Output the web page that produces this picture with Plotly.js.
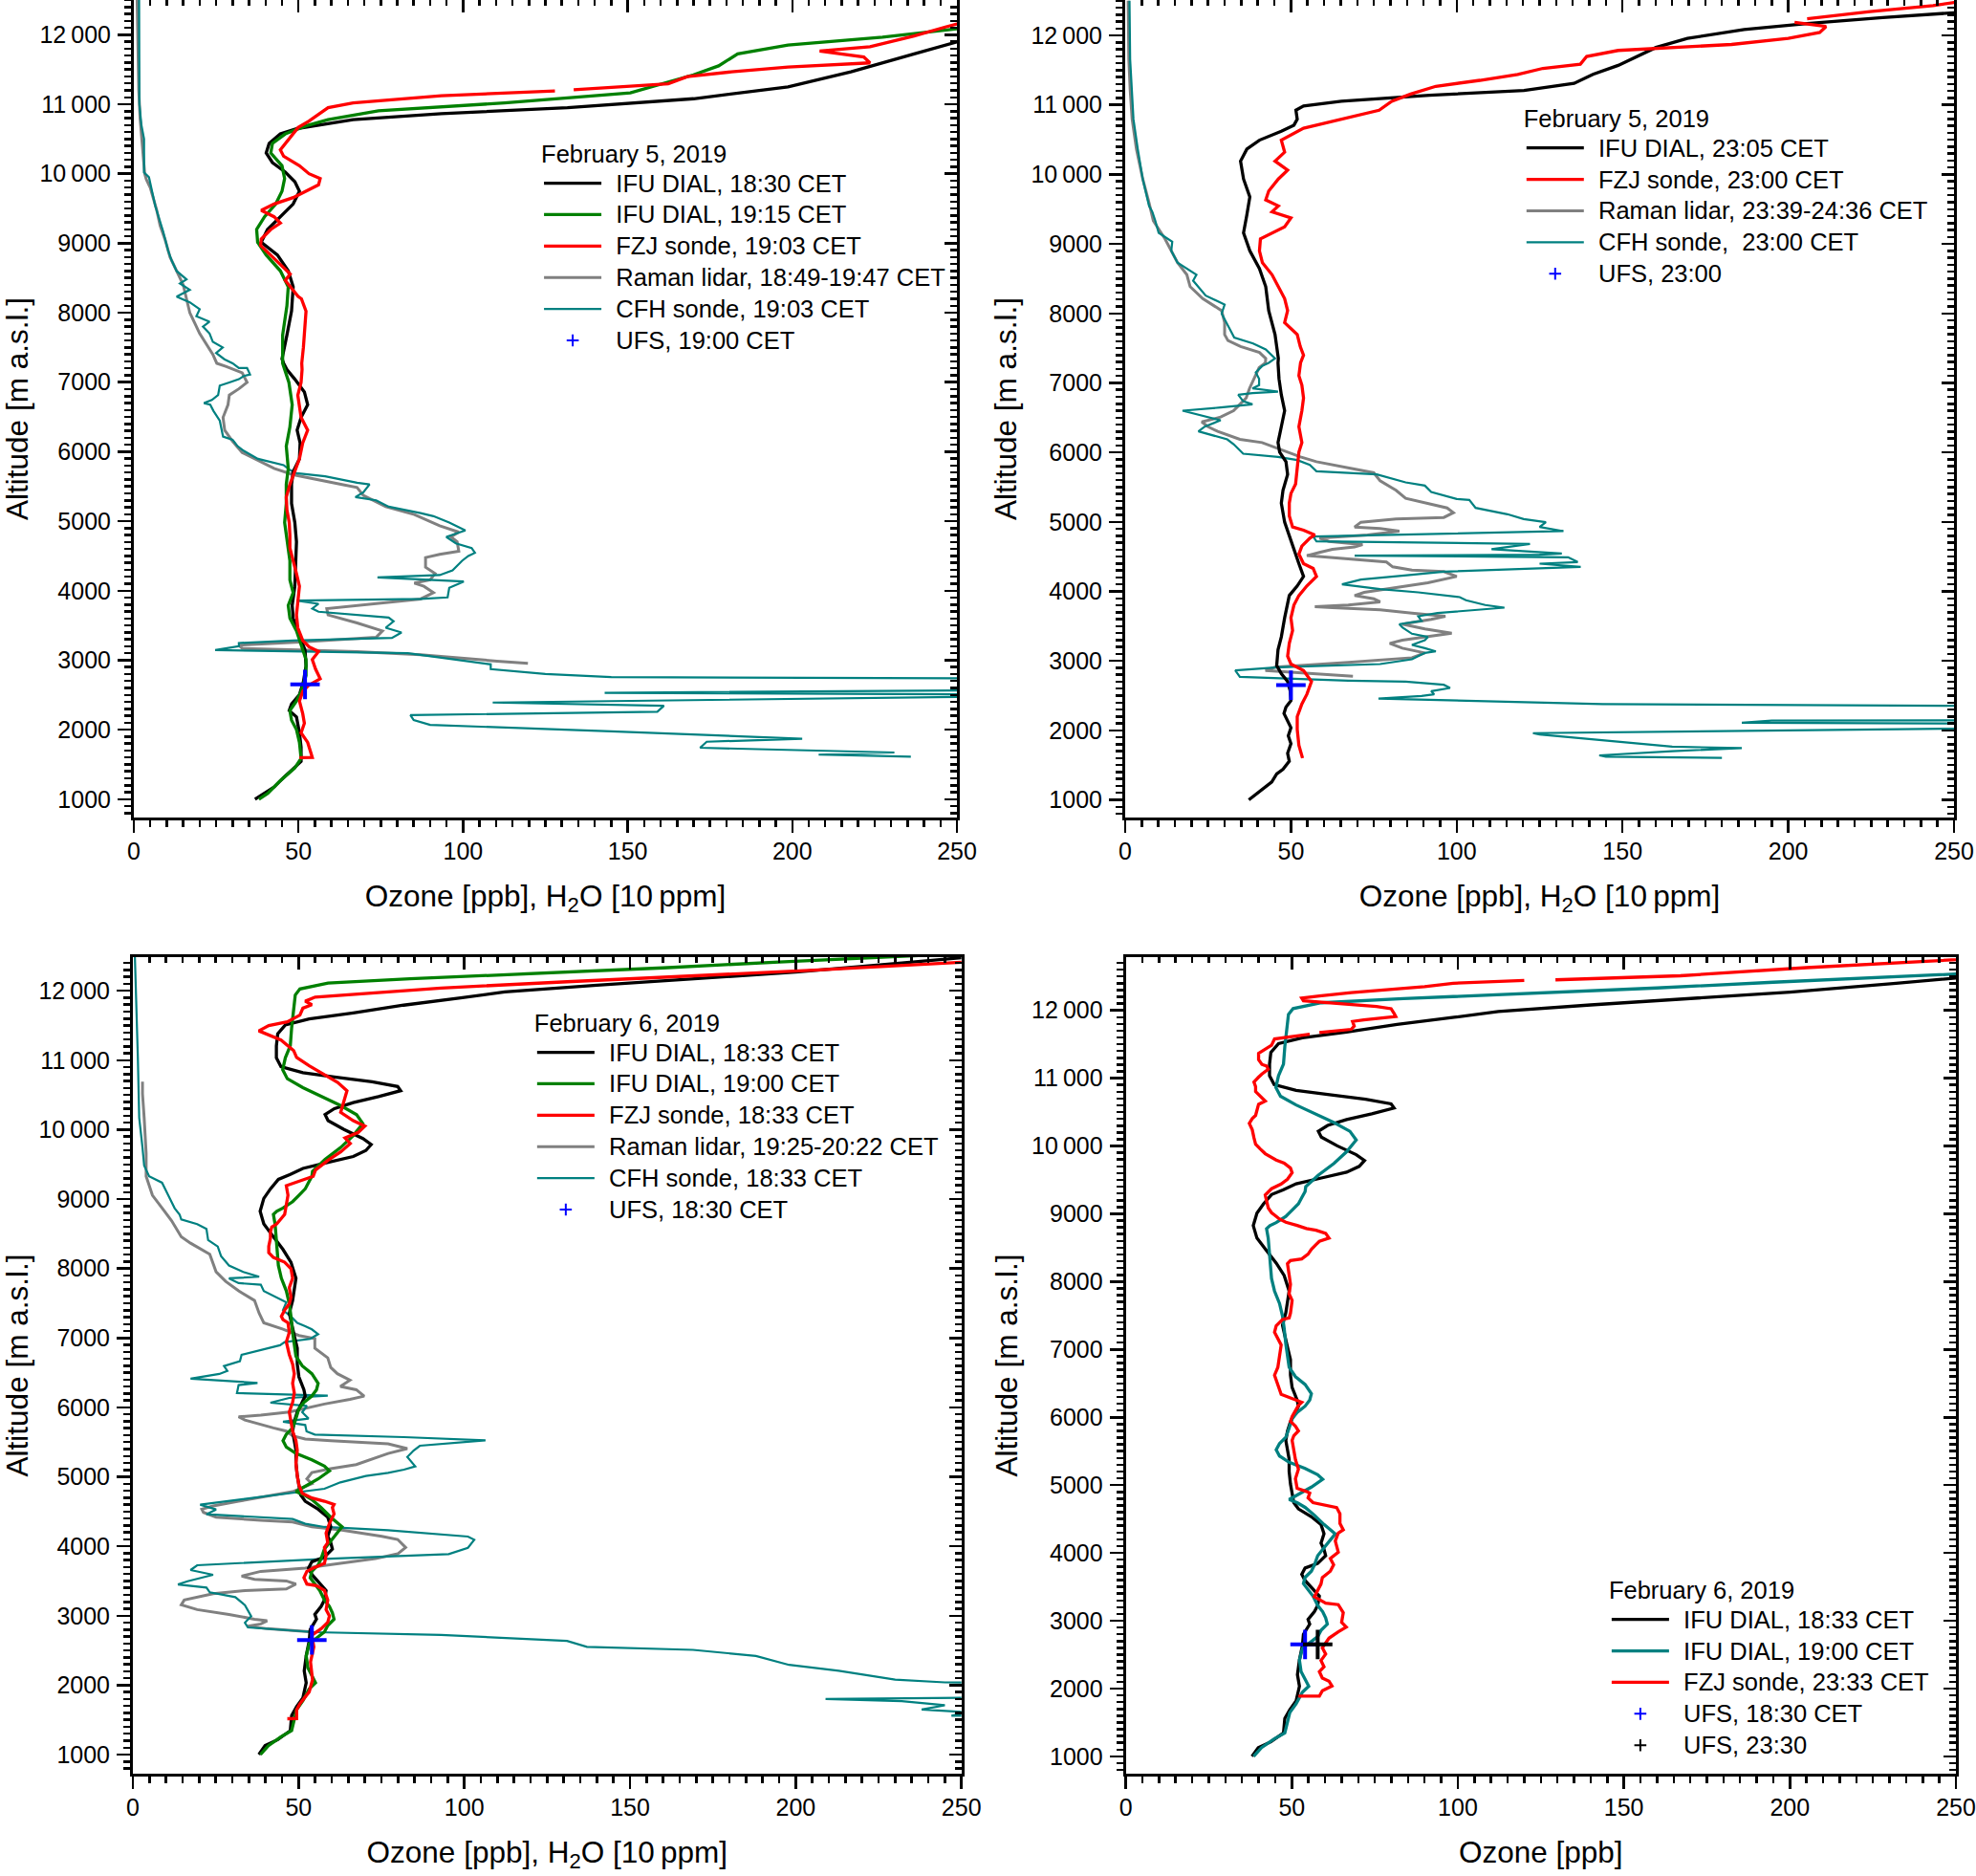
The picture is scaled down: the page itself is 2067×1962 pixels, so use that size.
<!DOCTYPE html>
<html>
<head>
<meta charset="utf-8">
<script src="https://cdn.plot.ly/plotly-3.0.1.min.js"></script>
<style>html,body{margin:0;padding:0;background:#fff;}#chart{width:2067px;height:1962px;}</style>
</head>
<body>
<div id="chart"></div>
<script>
// ---------------- DATA (ozone [ppb] or H2O [10 ppm], altitude [m a.s.l.]) ----------------
const xTickVals = [0, 50, 100, 150, 200, 250];
const yTickVals = [1000, 2000, 3000, 4000, 5000, 6000, 7000, 8000, 9000, 10000, 11000, 12000];
const yTickText = ['1000','2000','3000','4000','5000','6000','7000','8000','9000','10\u2009000','11\u2009000','12\u2009000'];

// Panel 1: February 5, 2019 (evening)
const p1_dial1830 = [[36.8,1000],[38.7,1060],[42.6,1175],[45.5,1312],[48.9,1450],[50.8,1542],[50.8,1750],[50.3,1954],[49.4,2183],[47.2,2275],[47.9,2367],[50.3,2504],[51.5,2688],[52.3,2917],[52.0,3146],[50.8,3284],[49.4,3467],[48.4,3605],[48.1,3788],[48.9,4063],[49.2,4338],[49.4,4705],[48.9,4980],[47.9,5255],[47.9,5530],[48.4,5714],[50.3,5897],[50.5,6126],[49.6,6310],[50.8,6493],[52.8,6676],[51.8,6860],[48.9,7043],[46.5,7181],[45.5,7272],[45.0,7335],[46.5,7679],[47.9,8023],[48.4,8373],[46.9,8602],[43.6,8831],[38.7,9014],[40.6,9198],[44.5,9381],[48.4,9565],[50.3,9748],[48.9,9886],[46.0,10023],[42.1,10161],[40.2,10298],[41.1,10436],[44.5,10573],[49.4,10648],[66.6,10777],[93.4,10864],[131.7,10950],[170.0,11079],[198.7,11251],[217.8,11466],[237.0,11724],[250,11896],[270,12100]];
const p1_dial1915 = [[38.0,1000],[40.7,1083],[44.5,1266],[48.9,1450],[50.8,1587],[50.3,1817],[49.4,2000],[47.9,2137],[47.4,2275],[49.4,2413],[50.8,2550],[52.3,2780],[52.3,3009],[50.8,3238],[49.4,3421],[47.4,3605],[46.9,3788],[48.4,3971],[47.4,4155],[47.4,4430],[46.5,4705],[45.8,4980],[46.3,5255],[46.3,5530],[46.9,5759],[46.3,6080],[47.4,6355],[48.1,6676],[47.1,6997],[45.2,7272],[45.2,7679],[46.5,8100],[46.9,8373],[44.5,8602],[40.2,8831],[37.6,9014],[37.3,9198],[39.7,9381],[43.1,9565],[45.0,9748],[45.8,9931],[45.0,10115],[41.6,10298],[42.1,10436],[46.0,10573],[52.3,10688],[59.0,10778],[74.3,10907],[112.6,11019],[150.8,11165],[170.0,11423],[177.6,11552],[183.4,11724],[198.7,11853],[227.4,11965],[250,12086],[270,12150]];
const p1_fzj1903 = [[50.3,1596],[54.2,1600],[53.7,1679],[52.8,1817],[50.8,1954],[51.8,2092],[51.3,2229],[50.3,2413],[51.3,2550],[53.2,2642],[56.6,2733],[55.2,2871],[54.2,3009],[56.1,3124],[53.2,3192],[51.3,3284],[49.8,3467],[49.4,3651],[49.8,3834],[50.3,4063],[49.4,4247],[48.4,4430],[47.4,4613],[47.4,4797],[47.2,4980],[46.5,5163],[46.3,5347],[47.4,5530],[48.9,5714],[50.3,5897],[51.3,6126],[52.8,6310],[50.8,6493],[50.3,6676],[49.8,6814],[50.8,6997],[51.1,7181],[51.0,7272],[51.5,7500],[52.3,8023],[50.9,8200],[49.9,8235],[46.0,8465],[47.5,8557],[44.5,8694],[41.6,8831],[38.5,8969],[38.7,9060],[41.6,9198],[44.5,9290],[42.6,9381],[38.7,9473],[42.6,9565],[48.4,9656],[52.3,9748],[56.1,9840],[56.6,9931],[53.2,10000],[50.3,10115],[45.5,10252],[44.5,10344],[46.9,10482],[48.4,10573],[49.9,10665],[53.2,10757],[56.1,10848],[59.0,10950],[66.6,11019],[93.4,11122],[127.9,11191],null,[133.6,11208],[162.3,11294],[168.1,11397],[181.5,11466],[198.7,11535],[223.6,11595],[221.7,11681],[208.3,11767],[223.6,11828],[237.0,11983],[246.5,12111],[250,12155],[270,12250]];
const p1_raman = [[119.7,2953],[110.3,2986],[87.1,3078],[67.8,3124],[50.3,3146],[32.9,3169],[31.9,3215],[50.3,3261],[73.6,3330],[75.5,3421],[67.8,3536],[59.0,3651],[58.6,3742],[67.8,3788],[87.1,3880],[91.0,3971],[88.1,4063],[85.2,4109],[90.0,4155],[91.5,4247],[88.6,4338],[88.6,4476],[92.9,4522],[98.7,4567],[98.2,4705],[96.3,4774],[98.7,4843],[92.9,4934],[85.2,5095],[76.5,5209],[69.7,5370],[67.8,5484],[58.1,5576],[48.4,5668],[42.6,5759],[37.7,5874],[32.9,5988],[30.0,6149],[27.6,6310],[27.1,6493],[28.6,6676],[29.0,6814],[31.9,6905],[34.4,6997],[32.9,7135],[28.1,7226],[25.2,7272],[24,7400],[22,7550],[20,7700],[18.5,7850],[17,8000],[16,8200],[15,8400],[13,8600],[11,8800],[9.5,9050],[8,9250],[6.9,9486],[5,9800],[3.8,9917],[3.3,10000],[2.6,10400],[1.9,10800],[1.5,11200],[1.2,11800],[1.0,12500]];
const p1_cfh = [[236,1611],[208,1640],[231,1671],[172,1740],[174,1826],[203,1869],[145,1977],[90,2068],[85,2137],[84,2210],[159,2257],[161,2343],[109,2390],[240,2472],[300,2500],[143,2530],[300,2580],[300,2730],[145,2756],[125,2800],[108.4,2871],[108.4,2940],[96.8,3018],[83.2,3101],[24.7,3146],[31.9,3201],[31.9,3247],[48.4,3284],[78.4,3320],[81.3,3398],[76.5,3467],[78.9,3559],[77.4,3614],[56.1,3697],[54.2,3742],[56.1,3811],[49.4,3857],[87.1,3880],[95.3,3903],[95.8,4040],[100.2,4132],[74.0,4192],[92.9,4224],[96.8,4293],[99.7,4430],[101.6,4499],[103.6,4545],[102.6,4613],[97.8,4682],[94.9,4774],[100.7,4866],[95.8,4980],[91.0,5072],[87.1,5117],[77.4,5209],[73.6,5301],[67.3,5347],[69.7,5416],[71.6,5530],[67.8,5553],[58.1,5645],[49.4,5691],[47.4,5737],[45.5,5806],[37.7,5897],[35.8,5943],[33.4,6012],[31.5,6080],[30.0,6172],[27.1,6218],[26.1,6447],[24.2,6585],[23.2,6676],[21.3,6699],[23.7,6745],[25.6,6814],[26.1,6951],[29.0,6997],[31.9,7043],[33.4,7089],[35.3,7111],[34.4,7203],[31.9,7203],[30.0,7272],[27.5,7330],[25,7420],[27,7500],[24,7580],[23,7700],[21,7800],[23,7870],[19,7950],[20,8050],[17,8150],[13,8230],[17,8330],[14,8420],[16,8480],[13,8600],[11.5,8750],[10.4,8895],[8.9,9170],[6.5,9537],[4.6,9949],[3.1,10018],[3.1,10500],[2.3,10700],[1.7,11000],[1.5,12000],[1.6,12500]];
const p1_ufs = [[52,2650]];

// Panel 2: February 5, 2019 (night)
const p2_dial2305 = [[37.3,1000],[40.4,1120],[44.2,1258],[45.7,1372],[47.6,1441],[49.5,1556],[49.0,1670],[50.0,1808],[49.2,1923],[50.0,2037],[47.9,2243],[48.5,2335],[50.0,2427],[49.8,2564],[49.0,2702],[47.1,2817],[45.7,2931],[46.1,3160],[47.1,3344],[48.1,3619],[49.5,3940],[51.9,4078],[53.8,4215],[52.4,4399],[50.0,4720],[48.1,4995],[47.1,5270],[47.6,5453],[49.0,5682],[48.5,5866],[46.6,6004],[46.1,6141],[47.1,6370],[48.1,6600],[47.1,6829],[46.4,7059],[46.1,7288],[46.2,7352],[45.2,7696],[43.3,8040],[42.4,8385],[40.5,8643],[37.6,8901],[35.7,9159],[36.7,9418],[37.6,9676],[35.7,9934],[34.8,10192],[36.7,10364],[40.5,10493],[47.1,10622],[50.9,10709],[51.9,10795],[51.5,10924],[53.8,10984],[65.2,11053],[91.8,11139],[120.3,11208],[135.4,11311],[141.1,11440],[148.7,11569],[154.4,11698],[160.1,11827],[169.6,11957],[186.7,12086],[205.7,12172],[228.5,12258],[250,12327],[270,12400]];
const p2_fzj2300 = [[53.5,1601],[52.4,1785],[51.9,2014],[51.9,2197],[53.3,2381],[54.8,2518],[56.2,2702],[53.8,2862],[50.0,2954],[49.0,3068],[49.5,3252],[50.5,3436],[50.0,3619],[50.9,3803],[52.4,3940],[54.8,4078],[57.7,4215],[56.7,4330],[53.8,4399],[52.4,4537],[53.3,4651],[55.7,4766],[57.2,4812],[53.8,4881],[50.5,4926],[49.5,5087],[49.5,5270],[50.0,5408],[51.4,5545],[51.9,5774],[52.4,6004],[53.3,6141],[52.4,6370],[53.3,6600],[53.8,6783],[53.3,6967],[52.4,7104],[52.9,7288],[53.8,7400],[52.8,7524],[51.9,7696],[48.1,7868],[49.0,8040],[48.1,8213],[46.2,8385],[44.3,8557],[41.4,8729],[40.5,8901],[40.8,9073],[48.1,9245],[50.0,9375],[44.3,9461],[46.2,9547],[42.4,9633],[43.3,9762],[46.2,9934],[49.0,10063],[45.2,10192],[48.1,10321],[47.1,10493],[53.8,10666],[65.2,10795],[76.6,10924],[80.4,11053],[86.1,11156],[93.7,11268],[107.0,11354],[118.4,11440],[126.0,11526],[137.3,11586],[139.2,11698],[148.7,11784],[167.7,11827],[182.9,11870],[200.0,11957],[209.5,12043],[211.4,12129],[201.9,12189],null,[205.7,12241],[224.7,12344],[243.7,12430],[250,12473],[270,12520]];
const p2_raman = [[68.7,2779],[57.7,2816],[42.3,2862],[45.2,2908],[53.8,2931],[67.3,2977],[86.5,3045],[90.4,3114],[83.6,3183],[79.8,3252],[83.6,3298],[90.4,3344],[98.5,3399],[90.4,3459],[83.6,3528],[92.3,3597],[96.6,3642],[86.5,3688],[76.9,3734],[62.5,3766],[57.2,3780],[67.3,3803],[76.9,3849],[75.0,3894],[69.2,3940],[72.1,3986],[81.7,4055],[91.3,4124],[100.0,4215],[96.1,4284],[86.5,4307],[80.7,4353],[78.8,4422],[67.3,4468],[54.8,4514],[58.6,4560],[62.5,4606],[69.2,4638],[71.6,4674],[61.5,4720],[58.6,4766],[73.1,4812],[82.7,4867],[76.9,4904],[69.2,4926],[71.1,4995],[81.7,5041],[96.1,5064],[99.0,5133],[97.1,5201],[90.4,5270],[84.6,5339],[81.7,5454],[76.9,5591],[75.0,5706],[67.3,5774],[57.7,5866],[52.9,5935],[45.2,6072],[41.3,6141],[34.6,6187],[27.9,6302],[25.0,6370],[23.1,6439],[28.8,6508],[32.7,6600],[34.6,6691],[36.5,6783],[37.5,6921],[39.4,7104],[40.4,7219],[42.3,7288],[42.4,7352],[40.5,7438],[34.8,7524],[31.0,7610],[30.0,7696],[30.0,7868],[29.1,8040],[23.4,8213],[19.6,8385],[18.6,8557],[15.8,8729],[12.0,9073],[8.5,9332],[7.2,9590],[5.3,9934],[3.4,10364],[2.1,10795],[1.5,11225],[1.1,11656],[0.9,12500]];
const p2_cfh = [[180,1605],[145,1620],[143,1640],[165,1700],[186,1745],[165,1765],[125,1940],[123,1960],[300,2050],[300,2090],[186,2110],[195,2140],[300,2150],[300,2340],[144,2379],[110,2420],[76.4,2458],[89.4,2495],[93.2,2518],[92.3,2564],[98.0,2610],[96.1,2656],[84.6,2702],[67.3,2715],[56.7,2733],[34.6,2770],[33.2,2862],[46.1,2908],[76.9,2954],[86.5,3022],[90.4,3114],[93.7,3137],[90.4,3183],[86.5,3229],[90.4,3298],[91.3,3344],[86.5,3390],[83.6,3482],[82.7,3528],[89.4,3574],[88.4,3642],[94.2,3688],[114.4,3766],[108.6,3803],[102.8,3872],[100.9,3917],[88.4,3986],[76.9,4032],[65.4,4101],[71.1,4170],[86.5,4238],[96.1,4284],[137.4,4353],[125.0,4399],[136.5,4422],[133.6,4491],[69.2,4514],[125,4528],[131.7,4546],[110.5,4606],[122.1,4683],[57.7,4720],[56.7,4789],[132.2,4867],[125.0,4926],[126.9,4995],[120.2,5041],[115.3,5110],[105.7,5201],[103.8,5316],[100.0,5330],[92.3,5431],[90.4,5522],[84.6,5568],[75.9,5683],[57.7,5729],[55.7,5820],[51.9,5889],[46.1,5935],[35.6,5981],[32.7,6118],[30.8,6187],[22.1,6302],[24.0,6370],[28.8,6462],[17.3,6600],[28.8,6646],[34.6,6669],[38.4,6691],[35.6,6737],[34.1,6829],[38.4,6852],[46.1,6875],[38.4,6921],[40.4,6967],[40.4,7059],[39.4,7150],[41.3,7242],[43.3,7288],[45.2,7352],[42.4,7481],[38.6,7567],[32.9,7653],[31.0,7825],[29.1,7997],[30.0,8127],[24.3,8256],[20.5,8471],[21.5,8557],[15.8,8729],[13.9,8901],[14.2,9030],[10.1,9159],[9.1,9332],[8.2,9461],[7.2,9547],[5.3,9934],[3.8,10364],[2.5,10795],[1.5,11656],[1.3,12500]];
const p2_ufs = [[50,2650]];

// February 6, 2019: IFU DIAL profiles (shown in panels 3 and 4)
const feb6_dial1833 = [[38.0,1000],[39.9,1129],[43.7,1215],[47.5,1345],[47.9,1560],[49.4,1689],[51.3,1818],[52.3,2034],[51.7,2206],[52.3,2421],[53.2,2637],[53.5,2800],[55.4,2950],[54.9,3019],[56.8,3134],[57.8,3226],[58.3,3363],[55.9,3501],[54.0,3593],[53.0,3685],[54.0,3777],[57.8,3845],[60.2,3960],[59.7,4052],[58.8,4144],[59.7,4282],[58.8,4419],[55.9,4534],[52.0,4649],[50.6,4741],[50.1,4878],[49.6,5016],[49.2,5200],[49.2,5383],[48.7,5521],[48.2,5659],[48.7,5796],[49.6,5934],[50.6,6026],[52.0,6163],[51.6,6255],[50.1,6439],[49.6,6622],[49.6,6852],[48.7,7035],[47.7,7219],[47.2,7356],[48.2,7540],[48.7,7678],[49.2,7861],[47.7,8091],[45.3,8274],[42.4,8458],[39.5,8642],[38.4,8825],[39.5,9009],[41.5,9147],[43.9,9284],[47.5,9356],[51.3,9442],[58.9,9528],[66.5,9614],[70.3,9700],[71.9,9786],[69.4,9872],[63.7,10002],[58.9,10131],[58.0,10217],[60.8,10303],[66.5,10389],[74.1,10475],[80.8,10561],[79.9,10622],[72.2,10691],[60.8,10760],[51.3,10820],[44.7,10906],[43.3,11035],[43.3,11208],[43.7,11380],[46.0,11509],[53.2,11595],[66.5,11681],[81.7,11793],[98.9,11897],[112.2,11983],[140,12080],[165,12160],[200,12270],[232,12400],[250,12480],[270,12560]];
const feb6_dial1900 = [[38.5,1000],[40.9,1129],[44.7,1258],[47.9,1345],[49.4,1646],[51.3,1775],[53.2,1947],[55.1,2034],[54.2,2120],[52.8,2249],[52.3,2421],[53.2,2594],[57.8,2767],[58.8,2858],[60.7,2950],[60.2,3042],[59.3,3134],[57.8,3226],[56.4,3363],[54.9,3455],[53.5,3547],[54.0,3639],[55.9,3731],[56.8,3822],[57.8,3960],[59.3,4052],[61.6,4190],[63.1,4282],[59.7,4419],[56.8,4557],[54.0,4672],[51.6,4741],[49.2,4787],[52.5,4878],[55.9,4970],[59.3,5085],[57.8,5154],[54.0,5246],[49.2,5337],[46.3,5429],[45.3,5521],[46.3,5613],[48.2,5705],[49.2,5842],[50.1,5980],[51.6,6072],[54.0,6163],[55.4,6255],[55.9,6347],[54.0,6485],[51.1,6599],[49.2,6737],[48.7,6898],[48.2,7081],[47.7,7311],[47.2,7494],[46.3,7678],[44.8,7861],[43.9,8045],[43.6,8229],[43.4,8458],[42.9,8642],[42.4,8779],[43.4,8825],[45.3,8871],[48.2,8963],[50.1,9055],[52.0,9147],[53.0,9239],[54.0,9328],[54.2,9399],[58.0,9571],[62.7,9743],[66.5,9915],[69.4,10088],[67.5,10217],[62.7,10346],[57.0,10475],[51.3,10605],[46.6,10734],[45.2,10863],[46.0,11035],[47.5,11208],[47.9,11466],[48.5,11724],[49.0,11940],[50.4,12026],[58.9,12112],[83.6,12172],[123,12250],[160,12330],[195,12415],[225,12480],[250,12540],[270,12580]];

// Panel 3: February 6, 2019 (evening)
const p3_fzj1833 = [[46.6,1517],[49.4,1520],[49.4,1646],[50.4,1732],[53.2,1904],[54.2,2077],[53.6,2335],[54.6,2551],[54.0,2721],[56.8,2813],[58.8,2904],[59.3,2996],[58.3,3088],[58.8,3226],[57.8,3363],[55.4,3432],[52.5,3455],[51.6,3547],[52.5,3639],[54.4,3685],[57.8,3754],[58.3,3868],[57.8,3983],[58.8,4052],[58.3,4190],[59.3,4328],[60.7,4465],[60.2,4557],[60.7,4603],[57.8,4649],[54.0,4695],[51.1,4764],[50.1,4878],[49.6,5016],[49.2,5200],[49.6,5383],[49.2,5521],[48.2,5659],[47.7,5796],[47.2,5934],[48.2,6072],[48.7,6209],[48.2,6347],[48.7,6485],[48.2,6622],[47.2,6760],[46.3,6943],[47.2,7081],[46.8,7219],[45.3,7265],[44.8,7311],[45.8,7402],[47.2,7494],[47.7,7586],[47.2,7724],[48.2,7861],[47.7,7999],[45.8,8091],[42.4,8160],[41.0,8229],[41.0,8320],[41.5,8435],[41.5,8527],[41.9,8596],[43.4,8642],[45.8,8779],[46.3,8917],[46.8,9055],[46.3,9193],[50.1,9262],[54.4,9328],[55.1,9420],[58.9,9560],[62.7,9680],[65.6,9800],[64,9880],[68,9960],[70,10050],[66.5,10130],[62.7,10250],[63.7,10400],[64.6,10560],[61.8,10680],[58.9,10760],[56.1,10840],[53.2,10920],[49.4,11040],[48.5,11140],[44.7,11290],[38.0,11423],[41,11500],[46.6,11552],[50.4,11650],[51.3,11750],[54,11800],[52,11850],[55,11910],[66.5,11950],[93,12040],[131,12130],[169,12215],[207,12300],[250,12410],[270,12450]];
const p3_raman = [[54.0,2767],[45.3,2790],[40.5,2813],[34.7,2849],[38.6,2881],[40.5,2927],[36.7,2950],[29.0,3019],[19.4,3088],[14.6,3157],[15.5,3226],[24.2,3317],[33.8,3363],[46.3,3386],[49.2,3455],[46.3,3501],[36.7,3524],[32.8,3570],[38.6,3639],[52.0,3685],[62.6,3754],[73.2,3822],[79.9,3891],[82.3,3983],[79.9,4098],[75.1,4144],[62.6,4236],[54.0,4282],[48.2,4351],[38.6,4374],[25.1,4419],[21.3,4488],[20.8,4534],[24.2,4580],[31.9,4649],[40.5,4718],[48.2,4787],[54.0,4901],[52.5,4970],[54.0,5062],[59.7,5117],[67.4,5177],[77.0,5337],[82.8,5406],[77.0,5475],[59.7,5521],[52.0,5544],[48.2,5590],[46.3,5659],[42.4,5705],[33.8,5819],[31.9,5865],[38.6,5888],[47.2,5934],[57.8,6049],[65.5,6117],[69.8,6163],[67.4,6255],[62.6,6301],[65.5,6393],[61.7,6485],[59.7,6576],[58.8,6714],[54.9,6852],[54.9,6989],[50.1,7035],[45.3,7127],[39.5,7219],[38.1,7356],[36.7,7540],[31.9,7678],[28.0,7815],[25.1,7953],[23.2,8206],[17.4,8366],[14.6,8458],[11.7,8688],[8.8,8871],[5.9,9055],[4.0,9328],[4.0,9657],[3.4,10174],[2.9,10519],[2.9,10691]];
const p3_cfh = [[300,1520],[247,1560],[252,1610],[238,1650],[245,1710],[232,1770],[209,1800],[300,1840],[300,2010],[245,2040],[230,2080],[213,2206],[198,2292],[188,2421],[169,2508],[137,2551],[131,2637],[93,2723],[55,2763],[34.7,2831],[33.8,2900],[35.7,2992],[33.8,3153],[30.9,3268],[23.2,3337],[22.2,3405],[13.6,3451],[16.5,3497],[24.2,3589],[17.4,3658],[19.4,3727],[57.8,3819],[95.3,3887],[101.1,3979],[103.0,4094],[101.1,4140],[77.0,4232],[57.8,4278],[52.0,4324],[48.2,4393],[22.2,4461],[25.1,4530],[20.3,4599],[24.2,4622],[31.9,4668],[43.4,4737],[51.1,4783],[57.8,4828],[62.6,4920],[70.3,5012],[77.0,5058],[81.8,5104],[85.2,5150],[82.8,5287],[84.7,5379],[86.6,5448],[106.4,5526],[81.8,5572],[54.9,5609],[52.4,5655],[52.0,5747],[45.3,5793],[53.0,5839],[51.1,5930],[52.5,6022],[41.5,6068],[47.2,6137],[58.8,6169],[31.4,6206],[31.9,6321],[37.6,6353],[17.4,6413],[26.1,6482],[28.5,6527],[27.5,6596],[32.3,6665],[32.8,6757],[38.6,6826],[44.4,6895],[45.8,6941],[53.5,6987],[55.9,7055],[54.0,7124],[52.0,7170],[49.6,7216],[47.7,7308],[45.3,7400],[46.3,7515],[42.4,7606],[39.5,7675],[38.6,7767],[31.9,7790],[29.0,7859],[38.1,7882],[33.3,7951],[30.9,7997],[29.0,8043],[26.6,8180],[25.6,8318],[22.7,8410],[22.2,8571],[19.4,8640],[14.6,8708],[14.1,8777],[12.6,8869],[10.7,9053],[9.8,9145],[8.8,9236],[4.9,9328],[4.2,9400],[3.4,9485],[2.9,9743],[1.9,10174],[1.5,11035],[1.0,11897],[0.6,12500]];
const p3_ufs = [[54,2650]];

// Panel 4: February 6, 2019 (ozone only)
const p4_fzj2333 = [[52.0,1888],[58.3,1888],[59.2,1968],[62.1,2038],[61.2,2109],[59.2,2156],[58.3,2250],[59.7,2320],[58.8,2414],[60.2,2508],[59.2,2602],[61.2,2743],[64.0,2837],[66.4,2908],[65.0,2978],[65.5,3119],[64.0,3237],[60.2,3260],[56.8,3354],[57.8,3448],[58.8,3542],[59.2,3636],[61.6,3730],[62.6,3824],[61.6,3918],[64.0,4012],[63.1,4177],[64.0,4294],[65.5,4341],[64.5,4435],[64.5,4576],[63.5,4670],[60.2,4708],[56.4,4741],[54.9,4811],[55.4,4882],[54.4,4906],[51.6,4953],[51.1,5094],[52.0,5235],[51.1,5376],[50.8,5470],[50.4,5564],[50.1,5658],[50.6,5728],[52.0,5799],[51.1,5869],[49.6,5940],[50.1,6010],[52.0,6175],[53.0,6222],[49.2,6292],[46.8,6339],[46.3,6410],[45.3,6551],[44.8,6621],[45.8,6737],[46.3,6925],[46.8,7066],[44.8,7254],[45.3,7348],[47.2,7442],[49.2,7466],[49.6,7536],[50.1,7724],[49.2,7818],[49.6,7959],[49.2,8100],[48.7,8265],[49.6,8312],[53.0,8336],[54.9,8406],[55.9,8477],[57.3,8547],[58.3,8594],[61.2,8641],[60.2,8712],[57.3,8759],[54.4,8782],[51.6,8829],[48.2,8876],[46.3,8923],[43.9,9017],[42.9,9088],[42.4,9182],[42.0,9276],[43.9,9370],[46.8,9440],[48.7,9511],[50.1,9605],[49.6,9675],[47.7,9746],[45.3,9793],[42.0,9887],[40.5,9957],[39.1,10028],[38.6,10122],[38.1,10239],[37.2,10333],[38.1,10404],[39.1,10451],[39.6,10545],[40.0,10615],[42.0,10662],[40.5,10733],[39.1,10803],[39.1,10874],[38.6,10944],[40.0,11015],[41.0,11062],[42.9,11132],[42.4,11179],[41.0,11203],[40.0,11273],[40.0,11367],[41.5,11414],[43.9,11485],[44.8,11579],[52.5,11626],[55.4,11649],null,[58.3,11673],[67.9,11720],[68.8,11767],[68.3,11837],[71.7,11861],[76.5,11884],[81.3,11908],[80.8,11955],[79.9,12025],[75.5,12058],[67.9,12086],[58.3,12119],[53.5,12142],[53.0,12180],[58.3,12213],[67.9,12260],[77.5,12300],[90,12350],[98.6,12400],[120,12440],null,[129.4,12450],[167,12510],[205,12630],[250,12760],[270,12800]];
const p4_ufs1830 = [[54,2650]];
const p4_ufs2330 = [[57.8,2650]];

// ---------------- STYLE / LAYOUT ----------------
const FONT = 'Liberation Sans, Arial, Helvetica, sans-serif';
const C = {black:'#000000', green:'#008000', red:'#ff0000', grey:'#808080', teal:'#008080', blue:'#0000ff'};
const xs = a => a.map(p => p ? p[0] : null);
const ys = a => a.map(p => p ? p[1] : null);
const lbl = t => '<span style="font-size:25.5px">\u2009\u2009' + t + '</span>';

function line(data, name, color, width, ax, lg, rank) {
  return {type:'scatter', mode:'lines', x:xs(data), y:ys(data), name:lbl(name),
    line:{color:color, width:width, shape:'linear'}, xaxis:ax[0], yaxis:ax[1],
    legend:lg, legendrank:rank, connectgaps:false, hoverinfo:'skip'};
}
// UFS station value: drawn large in the plot; a small legend-only key mirrors the reference legend symbol
function cross(data, name, color, ax, lg, rank) {
  return [
    {type:'scatter', mode:'markers', x:xs(data), y:ys(data), name:lbl(name), showlegend:false,
      marker:{symbol:'cross-thin', size:22, color:color, line:{color:color, width:4}},
      xaxis:ax[0], yaxis:ax[1], hoverinfo:'skip', cliponaxis:false},
    {type:'scatter', mode:'markers', x:[null], y:[null], name:lbl(name),
      marker:{symbol:'cross-thin', size:9, color:color, line:{color:color, width:2}},
      xaxis:ax[0], yaxis:ax[1], legend:lg, legendrank:rank, hoverinfo:'skip'}
  ];
}
function dummy(xa, ya) {
  return {type:'scatter', mode:'lines', x:[null], y:[null], xaxis:xa, yaxis:ya, showlegend:false, hoverinfo:'skip'};
}

const A1 = ['x','y'], A2 = ['x2','y2'], A3 = ['x3','y3'], A4 = ['x4','y4'];
const data = [
  // panel 1
  line(p1_raman, 'Raman lidar, 18:49-19:47 CET', C.grey, 3, A1, 'legend', 4),
  line(p1_cfh, 'CFH sonde, 19:03 CET', C.teal, 2.2, A1, 'legend', 5),
  line(p1_dial1830, 'IFU DIAL, 18:30 CET', C.black, 3.3, A1, 'legend', 1),
  line(p1_dial1915, 'IFU DIAL, 19:15 CET', C.green, 3.3, A1, 'legend', 2),
  line(p1_fzj1903, 'FZJ sonde, 19:03 CET', C.red, 3.3, A1, 'legend', 3),
  ...cross(p1_ufs, 'UFS, 19:00 CET', C.blue, A1, 'legend', 6),
  // panel 2
  line(p2_raman, 'Raman lidar, 23:39-24:36 CET', C.grey, 3, A2, 'legend2', 3),
  line(p2_cfh, 'CFH sonde,  23:00 CET', C.teal, 2.2, A2, 'legend2', 4),
  line(p2_dial2305, 'IFU DIAL, 23:05 CET', C.black, 3.3, A2, 'legend2', 1),
  line(p2_fzj2300, 'FZJ sonde, 23:00 CET', C.red, 3.3, A2, 'legend2', 2),
  ...cross(p2_ufs, 'UFS, 23:00', C.blue, A2, 'legend2', 5),
  // panel 3
  line(p3_raman, 'Raman lidar, 19:25-20:22 CET', C.grey, 3, A3, 'legend3', 4),
  line(p3_cfh, 'CFH sonde, 18:33 CET', C.teal, 2.2, A3, 'legend3', 5),
  line(feb6_dial1833, 'IFU DIAL, 18:33 CET', C.black, 3.3, A3, 'legend3', 1),
  line(feb6_dial1900, 'IFU DIAL, 19:00 CET', C.green, 3.3, A3, 'legend3', 2),
  line(p3_fzj1833, 'FZJ sonde, 18:33 CET', C.red, 3.3, A3, 'legend3', 3),
  ...cross(p3_ufs, 'UFS, 18:30 CET', C.blue, A3, 'legend3', 6),
  // panel 4
  line(feb6_dial1833, 'IFU DIAL, 18:33 CET', C.black, 3.3, A4, 'legend4', 1),
  line(feb6_dial1900, 'IFU DIAL, 19:00 CET', C.teal, 3.3, A4, 'legend4', 2),
  line(p4_fzj2333, 'FZJ sonde, 23:33 CET', C.red, 3.3, A4, 'legend4', 3),
  ...cross(p4_ufs1830, 'UFS, 18:30 CET', C.blue, A4, 'legend4', 4),
  ...cross(p4_ufs2330, 'UFS, 23:30', C.black, A4, 'legend4', 5),
  // mirror (top / right) axes carriers
  dummy('x5','y'), dummy('x','y5'),
  dummy('x6','y2'), dummy('x2','y6'),
  dummy('x7','y3'), dummy('x3','y7'),
  dummy('x8','y4'), dummy('x4','y8')
];

const tickFont = {family:FONT, size:25, color:'#000'};
const titleFont = {family:FONT, size:31.5, color:'#000'};
function xMain(domain, anchor, title) {
  return {domain:domain, anchor:anchor, range:[0,250], autorange:false,
    tickmode:'array', tickvals:xTickVals, ticktext:xTickVals.map(String),
    ticks:'outside', ticklen:13, tickwidth:2.5, tickcolor:'#000',
    showline:true, linewidth:3, linecolor:'#000', mirror:false,
    showgrid:false, zeroline:false, tickfont:tickFont, ticklabelstandoff:-2,
    minor:{tickmode:'linear', tick0:0, dtick:5, ticks:'outside', ticklen:7, tickwidth:2.5, tickcolor:'#000', showgrid:false},
    title:{text:title, font:titleFont, standoff:23}, automargin:false, fixedrange:true};
}
function xTop(over, anchor) {
  return {overlaying:over, anchor:anchor, side:'top', range:[0,250], autorange:false,
    tickmode:'array', tickvals:xTickVals, showticklabels:false,
    ticks:'inside', ticklen:13, tickwidth:2.5, tickcolor:'#000',
    showline:true, linewidth:3, linecolor:'#000', showgrid:false, zeroline:false,
    minor:{tickmode:'linear', tick0:0, dtick:5, ticks:'inside', ticklen:6, tickwidth:2.5, tickcolor:'#000', showgrid:false},
    automargin:false, fixedrange:true};
}
function yMain(domain, anchor, range) {
  return {domain:domain, anchor:anchor, range:range, autorange:false,
    tickmode:'array', tickvals:yTickVals, ticktext:yTickText,
    ticks:'outside', ticklen:14, tickwidth:2.5, tickcolor:'#000',
    showline:true, linewidth:3, linecolor:'#000', mirror:false,
    showgrid:false, zeroline:false, tickfont:tickFont, ticklabelstandoff:2,
    minor:{tickmode:'linear', tick0:0, dtick:100, ticks:'outside', ticklen:7, tickwidth:2.5, tickcolor:'#000', showgrid:false},
    title:{text:'Altitude [m a.s.l.]', font:titleFont, standoff:6}, automargin:false, fixedrange:true};
}
function yRight(over, anchor, range) {
  return {overlaying:over, anchor:anchor, side:'right', range:range, autorange:false,
    tickmode:'array', tickvals:yTickVals, showticklabels:false,
    ticks:'inside', ticklen:13, tickwidth:2.5, tickcolor:'#000',
    showline:true, linewidth:3, linecolor:'#000', showgrid:false, zeroline:false,
    minor:{tickmode:'linear', tick0:0, dtick:100, ticks:'inside', ticklen:7, tickwidth:2.5, tickcolor:'#000', showgrid:false},
    automargin:false, fixedrange:true};
}
function legendBox(x, y, title) {
  return {x:x, y:y, xanchor:'left', yanchor:'top', bgcolor:'rgba(255,255,255,0)', borderwidth:0,
    font:{family:FONT, size:23, color:'#000'}, title:{text:title, font:{family:FONT, size:25.5, color:'#000'}},
    itemwidth:60, itemsizing:'trace', tracegroupgap:0, traceorder:'normal', itemclick:false, itemdoubleclick:false};
}

const R1 = [735, 12500], R2 = [745, 12510], R3 = [725, 12485], R4 = [745, 12785];
const H2O = 'Ozone [ppb], H<sub>2</sub>O [10\u2009ppm]';
const layout = {
  width:2067, height:1962, margin:{l:0, r:0, t:0, b:0},
  paper_bgcolor:'#fff', plot_bgcolor:'#fff', showlegend:true,
  font:{family:FONT, color:'#000'},
  xaxis:  xMain([0.06773, 0.48428], 'y', H2O),
  yaxis:  yMain([0.5642, 1.0], 'x', R1),
  xaxis2: xMain([0.56942, 0.98887], 'y2', H2O),
  yaxis2: yMain([0.5642, 1.0], 'x2', R2),
  xaxis3: xMain([0.06725, 0.48655], 'y3', H2O),
  yaxis3: yMain([0.05454, 0.48981], 'x3', R3),
  xaxis4: xMain([0.56972, 0.98984], 'y4', 'Ozone [ppb]'),
  yaxis4: yMain([0.05454, 0.48981], 'x4', R4),
  xaxis5: xTop('x', 'y'),   yaxis5: yRight('y', 'x', R1),
  xaxis6: xTop('x2', 'y2'), yaxis6: yRight('y2', 'x2', R2),
  xaxis7: xTop('x3', 'y3'), yaxis7: yRight('y3', 'x3', R3),
  xaxis8: xTop('x4', 'y4'), yaxis8: yRight('y4', 'x4', R4),
  legend:  legendBox(0.2729, 0.9302, 'February 5, 2019'),
  legend2: legendBox(0.7701, 0.9490, 'February 5, 2019'),
  legend3: legendBox(0.2694, 0.4669, 'February 6, 2019'),
  legend4: legendBox(0.8132, 0.1646, 'February 6, 2019')
};

Plotly.newPlot('chart', data, layout, {displayModeBar:false, staticPlot:true, responsive:false});
</script>
</body>
</html>
